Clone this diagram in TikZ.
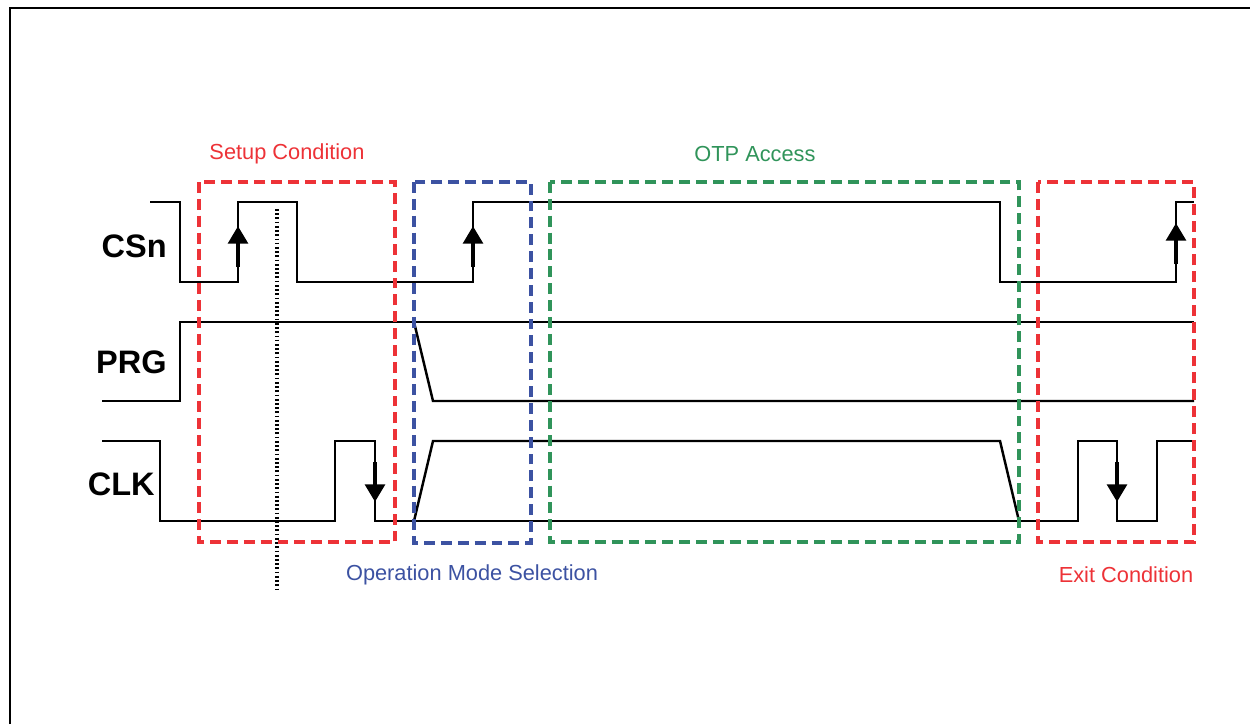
\documentclass[tikz,border=0pt]{standalone}
\usepackage{fontspec}
\setmainfont{Liberation Sans}
\usetikzlibrary{arrows.meta}
\definecolor{setupred}{RGB}{237,50,55}
\definecolor{modeblue}{RGB}{60,82,162}
\definecolor{otpgreen}{RGB}{48,148,90}
\tikzset{%
    wave/.style={line width=1.4pt, line join=miter},
    zone/.style={dash pattern=on 6.2pt off 3.4pt, line width=2.1pt},
    edgearrow/.style={line width=2.6pt, -{Triangle[width=11pt,length=10pt]}},
    signame/.style={font=\fontsize{18.5}{20}\selectfont\bfseries, anchor=east, inner sep=0pt},
    zonelabel/.style={font=\fontsize{12.4}{14}\selectfont, inner sep=0pt}
}

\begin{document}
\begin{tikzpicture}[x=0.02cm,y=-0.02cm]
	\useasboundingbox (0,0) rectangle (1250,724);
	\draw[line width=1.6pt] (10,724) -- (10,8) -- (1250,8);
	% signal names
	\node[signame](CSn) at (167,246) {CSn};
	\node[signame](PRG) at (167,362) {PRG};
	\node[signame](CLK) at (155,484) {CLK};
	% waveforms
	\draw[wave] (150,202) -- (180,202) -- (180,282) -- (238,282) -- (238,202) -- (297,202) -- (297,282)
		-- (473,282) -- (473,202) -- (1000,202) -- (1000,282) -- (1176,282) -- (1176,202) -- (1194,202);
	\draw[wave] (102,401) -- (180,401) -- (180,322) -- (1194,322);
	\draw[wave] (414,322) -- (433,401) -- (1194,401);
	\draw[wave] (102,441) -- (160,441) -- (160,521) -- (335,521) -- (335,441) -- (375,441) -- (375,521)
		-- (1078,521) -- (1078,441) -- (1117,441) -- (1117,521) -- (1157,521) -- (1157,441) -- (1194,441);
	\draw[wave] (414,521) -- (433,441) -- (1000,441) -- (1019,521);
	% edges
	\draw[edgearrow] (238,267) -- (238,226);
	\draw[edgearrow] (473,267) -- (473,226);
	\draw[edgearrow] (1176,264) -- (1176,223);
	\draw[edgearrow] (375,462) -- (375,502);
	\draw[edgearrow] (1117,462) -- (1117,502);
	\draw[line width=1.8pt, dash pattern=on 1pt off 1.4pt] (277,209) -- (277,589);
	% zones
	\draw[zone, setupred] (199,182) rectangle (395,542);
	\draw[zone, modeblue] (414,182) rectangle (531,543);
	\draw[zone, otpgreen] (550,182) rectangle (1019,542);
	\draw[zone, setupred] (1038,182) rectangle (1194,542);
	\node[zonelabel, text=setupred](setup) at (287,154) {Setup Condition};
	\node[zonelabel, text=otpgreen](otp) at (755,154) {OTP Access};
	\node[zonelabel, text=modeblue](mode) at (472,575) {Operation Mode Selection};
	\node[zonelabel, text=setupred](exit) at (1126,575) {Exit Condition};
\end{tikzpicture}
\end{document}
